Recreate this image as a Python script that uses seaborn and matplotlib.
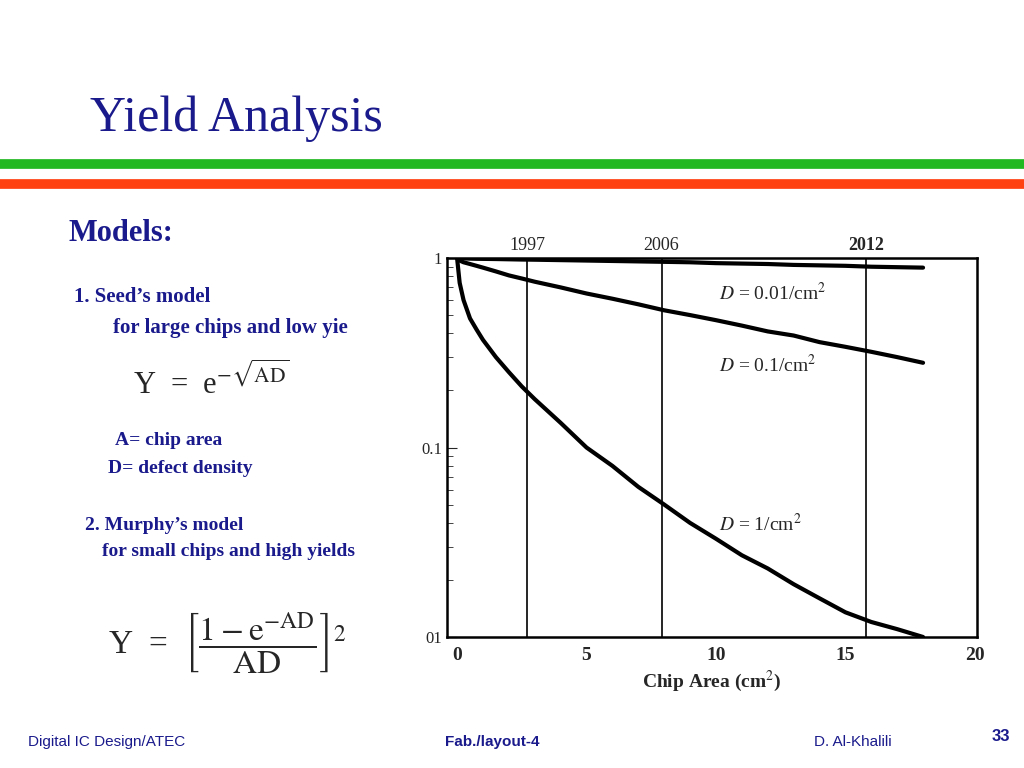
import matplotlib
matplotlib.use("Agg")
import matplotlib.pyplot as plt
import seaborn as sns
import pandas as pd

area = [0, 0.1, 0.25, 0.5, 0.75, 1, 1.5, 2, 2.5, 3, 4, 5, 6, 7, 8, 9, 10, 11, 12, 13, 14, 15, 16, 17, 18]
y_d001 = [1, 0.998, 0.996, 0.993, 0.991, 0.99, 0.988, 0.985, 0.982, 0.98, 0.975, 0.97, 0.965, 0.96, 0.955, 0.95, 0.94, 0.935, 0.93, 0.92, 0.915, 0.91, 0.9, 0.895, 0.89]
y_d01 = [1, 0.97, 0.95, 0.93, 0.91, 0.89, 0.85, 0.81, 0.78, 0.75, 0.70, 0.65, 0.61, 0.57, 0.53, 0.50, 0.47, 0.44, 0.41, 0.39, 0.36, 0.34, 0.32, 0.30, 0.28]
y_d1 = [1, 0.74, 0.6, 0.48, 0.42, 0.37, 0.3, 0.25, 0.21, 0.18, 0.135, 0.1, 0.08, 0.062, 0.05, 0.04, 0.033, 0.027, 0.023, 0.019, 0.016, 0.0135, 0.012, 0.011, 0.01]
year_pos = [2.7, 7.9, 15.8]
year_labels = ["1997", "2006", "2012"]
d_labels = ["= 0.01/cm$^2$", "= 0.1/cm$^2$", "= 1/cm$^2$"]

sns.set_style("white")
plt.rcParams['font.family'] = ['Liberation Serif', 'DejaVu Serif']
plt.rcParams['mathtext.fontset'] = 'stix'

fig = plt.figure(figsize=(10.24, 7.68), dpi=100)
navy = "#1a1a8c"
fig.text(0.088, 0.83, "Yield Analysis", fontsize=36, color=navy)
fig.add_artist(plt.Line2D([0, 1], [0.787, 0.787], color="#22b822", lw=7))
fig.add_artist(plt.Line2D([0, 1], [0.761, 0.761], color="#ff4010", lw=7))
fig.text(0.067, 0.686, "Models:", fontsize=22, color=navy, weight="bold")
fig.text(0.072, 0.607, "1. Seed\u2019s model", fontsize=15, color=navy, weight="bold")
fig.text(0.11, 0.567, "for large chips and low yie", fontsize=15, color=navy, weight="bold")
fig.text(0.13, 0.487, r"Y  =  e$^{-\sqrt{\mathrm{AD}}}$", fontsize=22)
fig.text(0.112, 0.42, "A= chip area", fontsize=14, color=navy, weight="bold")
fig.text(0.105, 0.384, "D= defect density", fontsize=14, color=navy, weight="bold")
fig.text(0.083, 0.31, "2. Murphy\u2019s model", fontsize=14, color=navy, weight="bold")
fig.text(0.1, 0.276, "for small chips and high yields", fontsize=14, color=navy, weight="bold")
fig.text(0.105, 0.15, r"Y  =  $\left[\dfrac{1-\mathrm{e}^{-\mathrm{AD}}}{\mathrm{AD}}\right]^{2}$", fontsize=24)

fs = ['Liberation Sans']
fig.text(0.027, 0.028, "Digital IC Design/ATEC", fontsize=11, color=navy, family=fs)
fig.text(0.435, 0.028, "Fab./layout-4", fontsize=11, color=navy, family=fs, weight="bold")
fig.text(0.795, 0.028, "D. Al-Khalili", fontsize=11, color=navy, family=fs)
fig.text(0.968, 0.035, "33", fontsize=12, color=navy, family=fs, weight="bold")

ax = fig.add_axes([0.4365, 0.1706, 0.5175, 0.4934])
df = pd.concat([
    pd.DataFrame({"A": area, "Y": y, "D": k})
    for y, k in [(y_d001, "0.01"), (y_d01, "0.1"), (y_d1, "1")]
])
sns.lineplot(data=df, x="A", y="Y", units="D", estimator=None, color="black", lw=3, ax=ax)
ax.set_yscale("log")
ax.set_ylim(0.01, 1)
ax.set_xlim(-0.39, 20.08)
for p in year_pos:
    ax.axvline(p, color="black", lw=1.2)
for p, l in zip(year_pos, year_labels):
    ax.text(p, 1.01, l, ha="center", va="bottom", fontsize=13, weight="bold" if l == "2012" else "normal",
            transform=ax.get_xaxis_transform())
for yv, l in zip([0.6, 0.25, 0.036], d_labels):
    ax.text(10.1, yv, "$D$ " + l, fontsize=14)
ax.set_xticks([0, 5, 10, 15, 20])
ax.set_xticklabels(["0", "5", "10", "15", "20"], fontsize=14, weight="bold")
ax.set_yticks([0.01, 0.1, 1])
ax.set_yticklabels(["01", "0.1", "1"], fontsize=12)
ax.tick_params(axis="y", which="both", direction="in", left=True, length=4)
ax.tick_params(axis="y", which="major", length=7)
ax.set_xlabel("Chip Area (cm$^2$)", fontsize=14, weight="bold")
ax.set_ylabel("")
for s in ax.spines.values():
    s.set_linewidth(1.8)
    s.set_color("black")
fig.savefig("out.png", dpi=100)
